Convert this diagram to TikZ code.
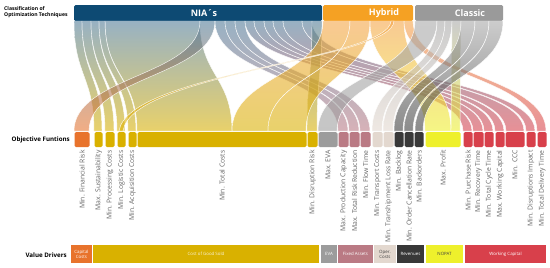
\documentclass[tikz,border=0pt]{standalone}
\usepackage{fontspec}
\setmainfont{Open Sans}
\definecolor{niabar}{HTML}{0D4A73}
\definecolor{hybbar}{HTML}{F5A123}
\definecolor{clabar}{HTML}{9A9A9A}
\definecolor{niaf}{HTML}{4E7A98}
\definecolor{hybf}{HTML}{F5A445}
\definecolor{claf}{HTML}{A8A8A8}
\definecolor{cOr}{HTML}{E8732C}
\definecolor{cYe}{HTML}{D9B100}
\definecolor{cGr}{HTML}{9C9C9C}
\definecolor{cMa}{HTML}{BA7A84}
\definecolor{cBe}{HTML}{E3D8CF}
\definecolor{cDk}{HTML}{383838}
\definecolor{cPr}{HTML}{EEF02C}
\definecolor{cRe}{HTML}{D8404B}
\newcommand\fband[6]{\path[fband, top color=#5, bottom color=#6] (#1,21) .. controls (#1,76) and (#3,76) .. (#3,131) -- (#4,131) .. controls (#4,76) and (#2,76) .. (#2,21) -- cycle;}
\newcommand\objbar[5]{%
  \node[obar, fill=#4, minimum width={(#3-#2-1)*1pt}] (#1) at ({(#2+#3)/2},139.5) {};
  \node[olab] (#1l) at ([yshift=-3pt]#1.south) {#5};}
\newcommand\valbar[6]{%
  \node[vbar, fill=#4, text=#6, minimum width={(#3-#2)*1pt}] (#1) at ({(#2+#3)/2},254) {#5};}
\begin{document}
\begin{tikzpicture}[x=1pt,y=-1pt,
  fband/.style={draw=white, line width=0.45pt, fill opacity=0.58, draw opacity=0.9},
  tbar/.style={rounded corners=1.5pt, inner sep=0pt, minimum height=16pt},
  ttext/.style={text=white, font=\fontsize{9}{10}\selectfont\bfseries, inner sep=0pt},
  obar/.style={rounded corners=1.5pt, inner sep=0pt, minimum height=15pt},
  olab/.style={rotate=90, anchor=east, inner sep=0pt, font=\fontsize{6.8}{7}\selectfont, text=black!60},
  vbar/.style={inner sep=0pt, minimum height=18pt, align=center, font=\fontsize{4.4}{5}\selectfont},
  hdr/.style={inner sep=0pt, font=\fontsize{5.1}{6}\selectfont\bfseries, align=left},
  hdrb/.style={inner sep=0pt, font=\fontsize{6.2}{7}\selectfont\bfseries}]
\useasboundingbox[fill=white] (0,0) rectangle (550,268);
% top bars
\node[tbar, fill=niabar, minimum width=248pt] (nia) at (198,13) {};
\node[tbar, fill=hybbar, minimum width=90pt] (hyb) at (368,13) {};
\node[tbar, fill=clabar, minimum width=88pt] (cla) at (459,13) {};
\node[ttext] (niat) at (204,13) {NIA´s};
\node[ttext] (hybt) at (384,13) {Hybrid};
\node[ttext] (clat) at (470,13) {Classic};
% flows NIA
\fband{105}{200}{137}{232}{niaf}{cYe}
\fband{74}{82}{94}{102}{niaf}{cYe}
\fband{82}{91}{105}{114}{niaf}{cYe}
\fband{91}{99}{117}{125}{niaf}{cYe}
\fband{99}{105}{128}{136}{niaf}{cYe}
\fband{200}{215}{74}{89}{niaf}{cOr}
\fband{215}{225}{338}{348}{niaf}{cMa}
\fband{225}{235}{349}{359}{niaf}{cMa}
\fband{235}{245}{360}{370}{niaf}{cMa}
\fband{245}{254}{463}{472}{niaf}{cRe}
\fband{254}{264}{473}{483}{niaf}{cRe}
\fband{264}{273}{484}{493}{niaf}{cRe}
\fband{273}{283}{495}{504}{niaf}{cRe}
\fband{283}{302}{506}{524}{niaf}{cRe}
\fband{302}{312}{526}{535}{niaf}{cRe}
\fband{312}{322}{307}{317}{niaf}{cYe}
% flows Hybrid
\fband{323}{350}{232}{268}{hybf}{cYe}
\fband{350}{370}{268}{306}{hybf}{cYe}
\fband{370}{404}{425}{451}{hybf}{cPr}
\fband{404}{413}{537}{546}{hybf}{cRe}
\path[fband, top color=hybf, bottom color=cYe] (391,21) .. controls (389,60) and (128,72) .. (119,131) -- (123,131) .. controls (132,72) and (393,60) .. (394,21) -- cycle;
% flows Classic
\fband{415}{437}{318}{337}{claf}{cGr}
\fband{437}{445}{372}{382}{claf}{cBe}
\fband{445}{452}{383}{393}{claf}{cBe}
\fband{452}{461}{451}{460}{claf}{cPr}
\fband{461}{475}{394}{403}{claf}{cDk}
\fband{475}{489}{404}{413}{claf}{cDk}
\fband{489}{503}{415}{423}{claf}{cDk}
% objective bars
\objbar{o1}{74}{90}{cOr}{Min. Financial Risk}
\objbar{o2}{94}{103}{cYe}{Max. Sustainability}
\objbar{o3}{105}{115}{cYe}{Min. Processing Costs}
\objbar{o4}{117}{126}{cYe}{Min. Logistic Costs}
\objbar{o5}{128}{137}{cYe}{Min. Acquisition Costs}
\objbar{o6}{137}{307}{cYe}{Min. Total Costs}
\objbar{o7}{307}{318}{cYe}{Min. Disruption Risk}
\objbar{o8}{318}{338}{cGr}{Max. EVA}
\objbar{o9}{338}{349}{cMa}{Max. Production Capacity}
\objbar{o10}{349}{360}{cMa}{Max. Total Risk Reduction}
\objbar{o11}{360}{371}{cMa}{Min. Flow Time}
\objbar{o12}{372}{383}{cBe}{Min. Transport Costs}
\objbar{o13}{383}{394}{cBe}{Min. Transhipment Loss Rate}
\objbar{o14}{394}{404}{cDk}{Min. Backlog}
\objbar{o15}{404}{414}{cDk}{Min. Order Cancellation Rate}
\objbar{o16}{414}{424}{cDk}{Min. Backorders}
\objbar{o17}{425}{461}{cPr}{Max. Profit}
\objbar{o18}{463}{473}{cRe}{Min. Purchase Risk}
\objbar{o19}{473}{484}{cRe}{Min. Recovery Time}
\objbar{o20}{484}{494}{cRe}{Min. Total Cycle Time}
\objbar{o21}{495}{505}{cRe}{Max. Working Capital}
\objbar{o22}{505}{525}{cRe}{Min. CCC}
\objbar{o23}{526}{536}{cRe}{Min. Disruptions Impact}
\objbar{o24}{537}{547}{cRe}{Min. Total Delivery Time}
% value drivers
\valbar{v1}{71}{92}{cOr}{Capital\\Costs}{white}
\valbar{v2}{93}{319}{cYe}{Cost of Good Sold}{white!85!cYe}
\valbar{v3}{321}{337}{cGr}{EVA}{white}
\valbar{v4}{338}{373}{cMa}{Fixed Assets}{white}
\valbar{v5}{374}{396}{cBe}{Oper.\\Costs}{black!75}
\valbar{v6}{397}{424}{cDk}{Revenues}{white}
\valbar{v7}{426}{463}{cPr}{NOPAT}{black!75}
\valbar{v8}{465}{546}{cRe}{Working Capital}{white}
% headers
\node[hdr, anchor=west] (hcl) at (4,12.5) {Classification of\\Optimization Techniques};
\node[hdrb, anchor=east] (hof) at (70,140) {Objective Funtions};
\node[hdrb, anchor=east] (hvd) at (67,255) {Value Drivers};
\end{tikzpicture}
\end{document}
